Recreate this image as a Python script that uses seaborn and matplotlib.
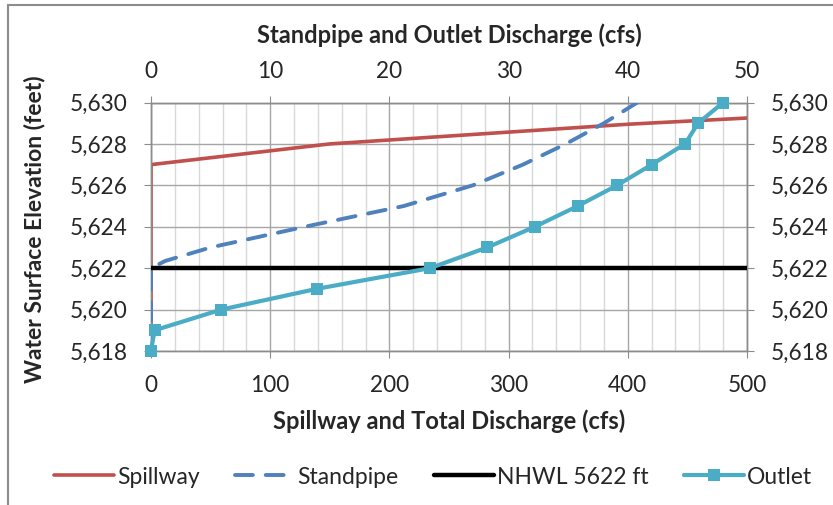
import matplotlib
matplotlib.use("Agg")
import matplotlib.pyplot as plt
import seaborn as sns
import pandas as pd
from matplotlib.ticker import FixedLocator, MultipleLocator, FuncFormatter
from matplotlib.patches import Rectangle

# Stage-discharge rating data (elevation in feet, discharge in cfs)
spillway_q = [0, 0, 150, 400, 500]
spillway_elev = [5618, 5627, 5628, 5628.95, 5629.25]

standpipe_q = [0, 0, 1.2, 5.0, 12.9, 21.2, 27.0, 31.2, 34.8, 38.0, 40.8]
standpipe_elev = [5618, 5622, 5622.35, 5623, 5624, 5625, 5626, 5627, 5628, 5629, 5630]

outlet_q = [0, 0.3, 5.9, 13.9, 23.4, 28.2, 32.2, 35.8, 39.1, 42.0, 44.8, 45.9, 48.0]
outlet_elev = [5618, 5619, 5620, 5621, 5622, 5623, 5624, 5625, 5626, 5627, 5628, 5629, 5630]

nhwl_elev = 5622

bottom_ticks = [0, 100, 200, 300, 400, 500]
top_ticks = [0, 10, 20, 30, 40, 50]
elev_ticks = [5618, 5620, 5622, 5624, 5626, 5628, 5630]

sns.set_style("white")
plt.rcParams["font.family"] = ["Lato", "DejaVu Sans"]

RED = "#C0504D"
BLUE = "#4F81BD"
CYAN = "#4BACC6"
AXIS_GREY = "#8C8C8C"
MAJOR_GRID = "#A6A6A6"
MINOR_GRID = "#D9D9D9"
TICK_FS = 16.3
TITLE_FS = 17
LEGEND_FS = 16.5

fig = plt.figure(figsize=(8.33, 5.05), dpi=100)
fig.patch.set_facecolor("white")
# chart-area border
fig.patches.append(Rectangle((8 / 833, -0.1), 1.2, 1.1 - 5 / 505,
                             transform=fig.transFigure, fill=False,
                             edgecolor="#8C8C8C", linewidth=1.5))

ax = fig.add_axes([151 / 833, 1 - 351 / 505, 596 / 833, 248.5 / 505])
ax2 = ax.twiny()

spill_df = pd.DataFrame({"q": spillway_q, "elev": spillway_elev})
stand_df = pd.DataFrame({"q": standpipe_q, "elev": standpipe_elev})
outlet_df = pd.DataFrame({"q": outlet_q, "elev": outlet_elev})

sns.lineplot(data=spill_df, x="q", y="elev", ax=ax, sort=False, estimator=None,
             color=RED, linewidth=2.6, label="Spillway", zorder=3)
sns.lineplot(data=stand_df, x="q", y="elev", ax=ax2, sort=False, estimator=None,
             color=BLUE, linewidth=2.8, dashes=False, label="Standpipe", zorder=3)
for ln in ax2.get_lines():
    ln.set_dashes((4.6, 3.3))
    ln.set_dash_capstyle("round")
ax2.axhline(nhwl_elev, color="black", linewidth=3.2, label="NHWL 5622 ft", zorder=4)
sns.lineplot(data=outlet_df, x="q", y="elev", ax=ax2, sort=False, estimator=None,
             color=CYAN, linewidth=3.0, marker="s", markersize=8.8,
             markeredgewidth=0, label="Outlet", zorder=5, clip_on=False)

ax.set_xlim(0, 500)
ax2.set_xlim(0, 50)
ax.set_ylim(5618, 5630)

# grid on the primary axes
ax.xaxis.set_major_locator(FixedLocator(bottom_ticks))
ax.xaxis.set_minor_locator(MultipleLocator(20))
ax.yaxis.set_major_locator(FixedLocator(elev_ticks))
ax.grid(which="minor", axis="x", color=MINOR_GRID, linewidth=1.0)
ax.grid(which="major", axis="x", color=MAJOR_GRID, linewidth=1.0)
ax.grid(which="major", axis="y", color=MAJOR_GRID, linewidth=1.0)
ax.set_axisbelow(True)

ax.yaxis.set_major_formatter(FuncFormatter(lambda v, p: f"{v:,.0f}"))
ax.xaxis.set_major_formatter(FuncFormatter(lambda v, p: f"{v:.0f}"))
ax2.xaxis.set_major_locator(FixedLocator(top_ticks))
ax2.xaxis.set_major_formatter(FuncFormatter(lambda v, p: f"{v:.0f}"))

for a in (ax, ax2):
    for sp in a.spines.values():
        sp.set_color(AXIS_GREY)
        sp.set_linewidth(1.0)

ax.tick_params(axis="x", which="major", direction="out", length=5, color=AXIS_GREY,
               labelsize=TICK_FS, pad=12.5, bottom=True, top=False)
ax.tick_params(axis="x", which="minor", length=0)
ax.tick_params(axis="y", direction="out", length=5, color=AXIS_GREY,
               labelsize=TICK_FS, pad=12, left=True, right=True,
               labelleft=True, labelright=True)
ax2.tick_params(axis="x", direction="out", length=5, color=AXIS_GREY,
                labelsize=TICK_FS, pad=10, top=True, bottom=False)
ax2.tick_params(axis="y", left=False, right=False, labelleft=False, labelright=False)

ax.set_xlabel("Spillway and Total Discharge (cfs)", fontsize=TITLE_FS, fontweight="bold",
              va="center")
ax.xaxis.set_label_coords(0.5, -(421 - 351) / 248.5)
ax.set_ylabel("Water Surface Elevation (feet)", fontsize=TITLE_FS - 0.5,
              fontweight="bold", va="center")
ax.yaxis.set_label_coords((35 - 151) / 596, (351 - 229) / 248.5)
ax2.set_xlabel("Standpipe and Outlet Discharge (cfs)", fontsize=TITLE_FS,
               fontweight="bold", va="center")
ax2.xaxis.set_label_coords(0.5, 1 + (102.5 - 35) / 248.5)

handles, labels = [], []
for a in (ax, ax2):
    h, l = a.get_legend_handles_labels()
    handles += h
    labels += l
    if a.get_legend() is not None:
        a.get_legend().remove()

fig.legend(handles, labels, loc="center", ncol=4, frameon=False,
           bbox_to_anchor=(433 / 833, 1 - 477 / 505), fontsize=LEGEND_FS,
           handlelength=2.6, handletextpad=0.13, columnspacing=1.55)

fig.savefig("out.png", dpi=100, facecolor="white")
